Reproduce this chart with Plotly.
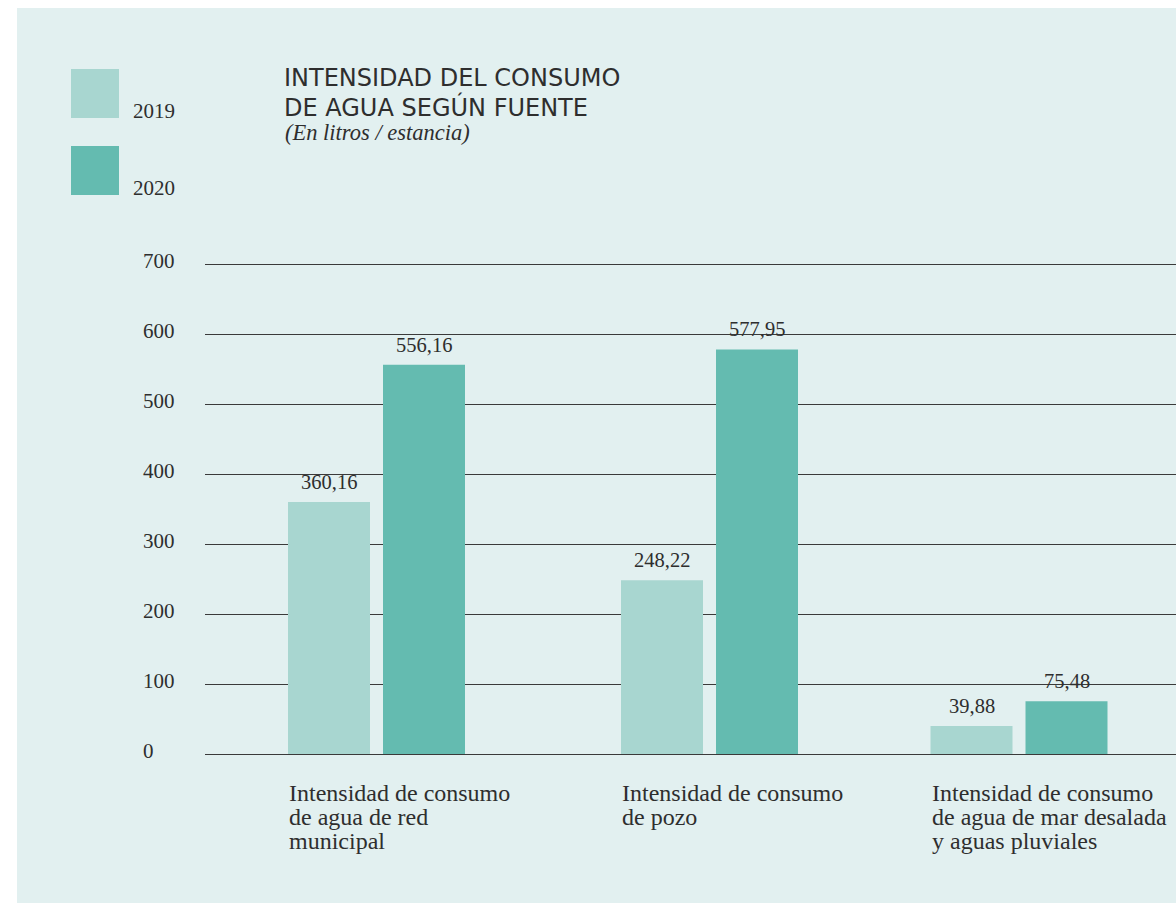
import plotly.graph_objects as go

# --- data -------------------------------------------------------------
categories = [
    "Intensidad de consumo<br>de agua de red<br>municipal",
    "Intensidad de consumo<br>de pozo",
    "Intensidad de consumo<br>de agua de mar desalada<br>y aguas pluviales",
]
years = ["2019", "2020"]
values_2019 = [360.16, 248.22, 39.88]
values_2020 = [556.16, 577.95, 75.48]
y_ticks = [0, 100, 200, 300, 400, 500, 600, 700]
title_lines = ["INTENSIDAD DEL CONSUMO", "DE AGUA SEGÚN FUENTE"]
subtitle = "(En litros / estancia)"

# --- layout constants (pixels) -----------------------------------------
W, H = 1176, 903
Y_MAX = 710                     # a little headroom so the 700 grid line shows
L, R, T, B = 205, 0, 257, 149
PW, PH = W - L - R, H - T - B
group_centers = [171.5, 504.5, 814.0]   # x-axis is measured in plot pixels
bar_w, bar_gap = 82, 13
offset = (bar_w + bar_gap) / 2

col_2019 = "#a8d6d0"
col_2020 = "#64bbb0"
panel = "#e2f0f0"
ink = "#2e2e2e"
grid = "#3a3a3a"
serif = "Liberation Serif, Times New Roman, serif"
sans = "DejaVu Sans, Open Sans, sans-serif"


def px_x(px):
    return (px - L) / PW


def px_y(py):
    return (H - B - py) / PH


def fmt(v):
    return f"{v:.2f}".replace(".", ",")


fig = go.Figure()
for name, vals, col, sign in [(years[0], values_2019, col_2019, -1),
                              (years[1], values_2020, col_2020, 1)]:
    fig.add_trace(go.Bar(
        x=[c + sign * offset for c in group_centers],
        y=vals,
        width=bar_w,
        name=name,
        marker=dict(color=col, line=dict(width=0)),
        hovertemplate="%{y:.2f}<extra>" + name + "</extra>",
    ))

annotations = []
# value labels above bars
for vals, sign in [(values_2019, -1), (values_2020, 1)]:
    for c, v in zip(group_centers, vals):
        annotations.append(dict(
            x=c + sign * offset, y=v, xref="x", yref="y",
            text=fmt(v), showarrow=False, yanchor="middle", yshift=20,
            font=dict(family=serif, size=20.5, color=ink),
        ))

# y tick labels, left aligned
for t in y_ticks:
    annotations.append(dict(
        x=px_x(141), y=t, xref="paper", yref="y", text=str(t),
        showarrow=False, xanchor="left", yanchor="middle", yshift=3,
        font=dict(family=serif, size=21, color=ink),
    ))

# category labels under each group, one annotation per line
line_step = 24
for c, cat in zip(group_centers, categories):
    for i, line in enumerate(cat.split("<br>")):
        annotations.append(dict(
            x=c - offset - bar_w / 2 - 1, y=px_y(793 + i * line_step),
            xref="x", yref="paper",
            text=line, showarrow=False, xanchor="left", yanchor="middle",
            font=dict(family=serif, size=24, color=ink),
        ))

# title block
for i, line in enumerate(title_lines):
    annotations.append(dict(
        x=px_x(282), y=px_y(78 + i * 29), xref="paper", yref="paper",
        text=line, showarrow=False, xanchor="left", yanchor="middle",
        font=dict(family=sans, size=24, color=ink),
    ))
annotations.append(dict(
    x=px_x(283), y=px_y(133), xref="paper", yref="paper",
    text="<i>" + subtitle + "</i>",
    showarrow=False, xanchor="left", yanchor="middle",
    font=dict(family=serif, size=22.5, color=ink),
))

# legend labels
for yr, yc in zip(years, [111, 188]):
    annotations.append(dict(
        x=px_x(177), y=px_y(yc), xref="paper", yref="paper", text=yr,
        showarrow=False, xanchor="right", yanchor="middle",
        font=dict(family=serif, size=21, color=ink),
    ))

shapes = [
    # panel background
    dict(type="rect", xref="paper", yref="paper", layer="below",
         x0=px_x(17), x1=px_x(W + 5), y0=px_y(H + 5), y1=px_y(8),
         fillcolor=panel, line=dict(width=0)),
    # legend swatches
    dict(type="rect", xref="paper", yref="paper",
         x0=px_x(71), x1=px_x(119), y0=px_y(118), y1=px_y(69),
         fillcolor=col_2019, line=dict(width=0)),
    dict(type="rect", xref="paper", yref="paper",
         x0=px_x(71), x1=px_x(119), y0=px_y(195), y1=px_y(146),
         fillcolor=col_2020, line=dict(width=0)),
]

fig.update_layout(
    width=W, height=H,
    margin=dict(l=L, r=R, t=T, b=B, pad=0),
    paper_bgcolor="white",
    plot_bgcolor="rgba(0,0,0,0)",
    barmode="overlay",
    showlegend=False,
    annotations=annotations,
    shapes=shapes,
    xaxis=dict(range=[0, PW], showgrid=False, zeroline=False,
               showticklabels=False, ticks="", fixedrange=True),
    yaxis=dict(range=[0, Y_MAX], tickvals=y_ticks, showticklabels=False,
               showgrid=True, gridcolor=grid, gridwidth=1,
               zeroline=True, zerolinecolor=grid, zerolinewidth=1,
               ticks="", fixedrange=True),
)

fig.write_html("out.html")
